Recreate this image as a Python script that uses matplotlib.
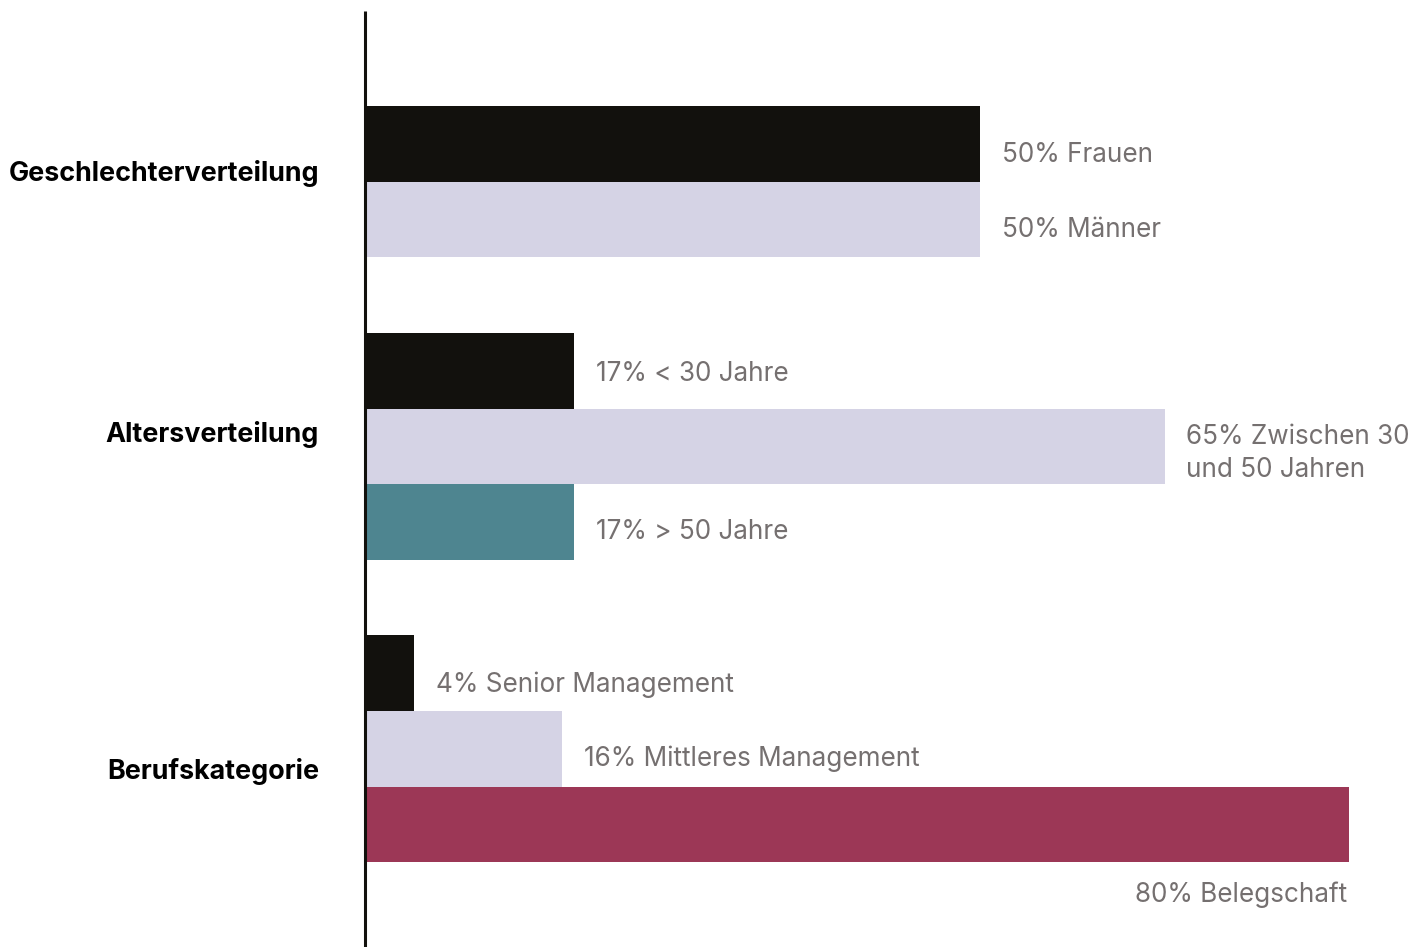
import numpy as np
import matplotlib.pyplot as plt

plt.rcParams['font.family'] = ['Inter', 'DejaVu Sans']

# data
groups = ["Geschlechterverteilung", "Altersverteilung", "Berufskategorie"]
group_values = [[50, 50], [17, 65, 17], [4, 16, 80]]
group_labels = [["50% Frauen", "50% Männer"],
                ["17% < 30 Jahre", "65% Zwischen 30\nund 50 Jahren", "17% > 50 Jahre"],
                ["4% Senior Management", "16% Mittleres Management", "80% Belegschaft"]]
group_colors = [["#12110d", "#d5d3e5"],
                ["#12110d", "#d5d3e5", "#4e8590"],
                ["#12110d", "#d5d3e5", "#9c3756"]]

# label baseline offset below bar centre (px), group title offset (px)
label_dy = [[18, 17.5], [10, 0, 17], [19, 17.5, 0]]
title_dy = [-8, -12, 23]

W, H = 1428, 947
x0 = 365            # axis position in px
px_per_pct = 12.3
slot = 75.6         # bar height in px
first = 144         # centre of first bar in px

fig = plt.figure(figsize=(W / 100, H / 100), dpi=100)
ax = fig.add_axes([x0 / W, 0, 1 - x0 / W, 1])
ax.set_xlim(0, (W - x0) / px_per_pct)
ax.set_ylim((H - first) / slot, -first / slot)
ax.axis('off')

grey = "#757070"
fs = 18.8
pos = 0
for g, vals in enumerate(group_values):
    ys = []
    for i, v in enumerate(vals):
        y = pos
        ys.append(y)
        ax.barh(y, v, height=1.0, color=group_colors[g][i], linewidth=0)
        lab = group_labels[g][i]
        if g == 2 and i == 2:
            # last label sits below its bar, right aligned
            ax.annotate(lab, (v, y + 0.5), xytext=(-2, -40), textcoords='offset pixels',
                        ha='right', va='baseline', fontsize=fs, color=grey)
        elif "\n" in lab:
            ax.annotate(lab, (v, y), xytext=(22, -7), textcoords='offset pixels',
                        ha='left', va='center', fontsize=fs, color=grey, linespacing=1.38)
        else:
            ax.annotate(lab, (v, y), xytext=(22, -label_dy[g][i]), textcoords='offset pixels',
                        ha='left', va='baseline', fontsize=fs, color=grey)
        pos += 1
    ax.annotate(groups[g], (0, np.mean(ys)), xytext=(-46, -title_dy[g]), textcoords='offset pixels',
                ha='right', va='center', fontsize=19.4, fontweight='bold', color='black',
                annotation_clip=False)
    pos += 1

# vertical axis line
ax.plot([0, 0], [(11 - first) / slot, (H - first) / slot], color="#12110d", lw=2.2,
        clip_on=False, solid_capstyle='butt')

fig.savefig("out.png", dpi=100)
